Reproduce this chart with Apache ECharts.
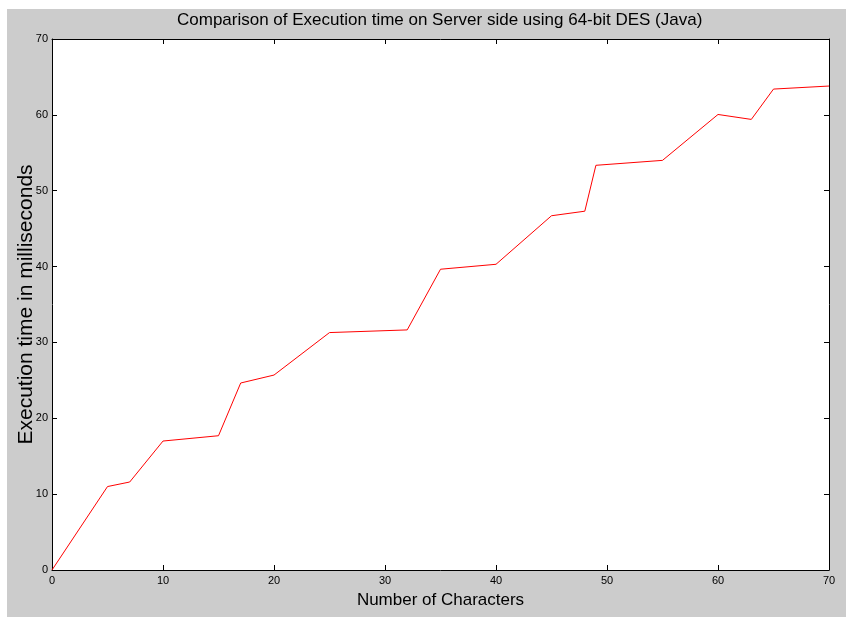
<!DOCTYPE html>
<html>
<head>
<meta charset="utf-8">
<script src="https://cdn.jsdelivr.net/npm/echarts@6/dist/echarts.min.js"></script>
<style>
  html, body { margin: 0; padding: 0; background: #ffffff; }
  #frame { position: absolute; left: 7px; top: 9px; width: 839px; height: 608px; background: #cccccc; }
  #chart { position: absolute; left: 0; top: 0; width: 848px; height: 619px; }
</style>
</head>
<body>
<div id="frame"></div>
<div id="chart"></div>
<script>
// number of characters vs execution time (ms)
const chars = [0, 5, 7, 10, 15, 17, 20, 25, 32, 35, 40, 45, 48, 49, 55, 60, 63, 65, 70]
const execTime = [0, 11.0, 11.6, 17.0, 17.7, 24.65, 25.7, 31.3, 31.65, 39.65, 40.3, 46.7, 47.3, 53.35, 54.0, 60.05, 59.4, 63.4, 63.8]
const xTicks = [0, 10, 20, 30, 40, 50, 60, 70]
const yTicks = [0, 10, 20, 30, 40, 50, 60, 70]

const mainFont = "'Liberation Sans', Arial, sans-serif"

let points = chars.map((c, i) => [c, execTime[i]])

const axisCommon = () => ({
  type: 'value',
  min: 0,
  max: 70,
  interval: 10,
  splitLine: { show: false },
  axisLine: { show: true, onZero: false, lineStyle: { color: '#000', width: 1 } },
  axisTick: { show: true, inside: true, length: 5, lineStyle: { color: '#000' } }
})

let option = {
  animation: false,
  backgroundColor: 'transparent',
  title: {
    text: 'Comparison of Execution time on Server side using 64-bit DES (Java)',
    left: 172,
    top: 7,
    textStyle: { fontFamily: mainFont, fontSize: 17, fontWeight: 'normal', color: '#000' }
  },
  grid: {
    left: 52, right: 19, top: 39, bottom: 49,
    outerBoundsMode: 'none',
    containLabel: false,
    show: true, backgroundColor: '#fff', borderWidth: 0
  },
  xAxis: [
    Object.assign(axisCommon(), {
      position: 'bottom',
      name: 'Number of Characters',
      nameLocation: 'middle',
      nameGap: 22,
      nameMoveOverlap: false,
      nameTextStyle: { fontFamily: mainFont, fontSize: 17, color: '#000' },
      axisLabel: {
        fontFamily: mainFont, fontSize: 11, color: '#000', margin: 5,
        customValues: xTicks
      }
    }),
    Object.assign(axisCommon(), {
      position: 'top',
      axisLabel: { show: false }
    })
  ],
  yAxis: [
    Object.assign(axisCommon(), {
      position: 'left',
      name: 'Execution time in milliseconds',
      nameLocation: 'middle',
      nameGap: 15,
      nameMoveOverlap: false,
      nameTextStyle: { fontFamily: mainFont, fontSize: 21, color: '#000' },
      axisLabel: {
        fontFamily: mainFont, fontSize: 11, color: '#000', margin: 4,
        customValues: yTicks
      }
    }),
    Object.assign(axisCommon(), {
      position: 'right',
      axisLabel: { show: false }
    })
  ],
  series: [
    {
      type: 'line',
      data: points,
      symbol: 'none',
      lineStyle: { color: '#ff0000', width: 1 }
    }
  ]
}

let chart = echarts.init(document.getElementById('chart'))
chart.setOption(option)
</script>
</body>
</html>
